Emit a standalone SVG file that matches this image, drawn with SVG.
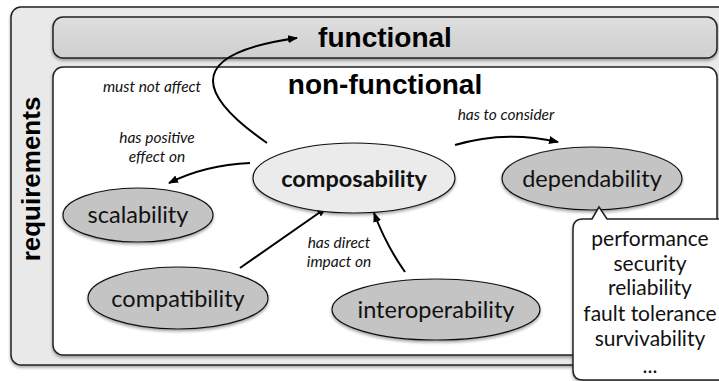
<svg xmlns="http://www.w3.org/2000/svg" width="719" height="381" viewBox="0 0 719 381">
  <defs>
    <filter id="shadow" x="-10%" y="-10%" width="120%" height="130%">
      <feDropShadow dx="0" dy="2" stdDeviation="1.5" flood-color="#000" flood-opacity="0.35"/>
    </filter>
    <linearGradient id="funcFill" x1="0" y1="0" x2="0" y2="1">
      <stop offset="0" stop-color="#dedede"/>
      <stop offset="1" stop-color="#cfcfcf"/>
    </linearGradient>
    <marker id="arrow" viewBox="0 0 10 10" refX="9" refY="5" markerWidth="10" markerHeight="10" markerUnits="userSpaceOnUse" orient="auto">
      <path d="M0,1 L10,5 L0,9 Z" fill="#000"/>
    </marker>
    <style>
      .box { stroke: #222; stroke-width: 1.5; }
      .node { stroke: #111; stroke-width: 1.2; filter: url(#shadow); }
      .main { fill: #ebebeb; }
      .sub { fill: #c4c4c4; }
      .title { font-family: "Liberation Sans", Arial, sans-serif; font-weight: bold; fill: #000; }
      .label { font-family: Lato, "Open Sans", sans-serif; font-size: 23.5px; fill: #111; text-anchor: middle; }
      .edge-label { font-family: Lato, "Open Sans", sans-serif; font-style: italic; font-size: 15.5px; fill: #111; text-anchor: middle; }
      .edge { fill: none; stroke: #000; stroke-width: 2; marker-end: url(#arrow); }
      .list { font-family: Lato, "Open Sans", sans-serif; font-size: 21px; fill: #111; text-anchor: middle; }
    </style>
  </defs>

  <!-- requirements container -->
  <g id="requirements">
    <rect class="box" x="11" y="7" width="730" height="358" rx="10" fill="#e9e9e9" filter="url(#shadow)"/>
    <text class="title" font-size="26" transform="translate(40,179) rotate(-90)" text-anchor="middle">requirements</text>
  </g>

  <!-- functional band -->
  <g id="functional">
    <rect class="box" x="53" y="17" width="664" height="41" rx="10" fill="url(#funcFill)" filter="url(#shadow)"/>
    <text class="title" font-size="28" x="385" y="47" text-anchor="middle">functional</text>
  </g>

  <!-- non-functional area -->
  <g id="non-functional">
    <rect class="box" x="53" y="67" width="664" height="288" rx="10" fill="#fff" filter="url(#shadow)"/>
    <text class="title" font-size="28" x="385" y="94" text-anchor="middle">non-functional</text>
  </g>

  <!-- relations -->
  <g id="connectors">
    <path class="edge" d="M267,143 C205,100 175,55 297,38"/>
    <path class="edge" d="M250,163 Q205,165 169,183"/>
    <path class="edge" d="M455,145 Q505,130 558,142"/>
    <path class="edge" d="M240,268 L326,208"/>
    <path class="edge" d="M405,272 Q386,245 374,213"/>
    <text class="edge-label" x="152" y="92">must not affect</text>
    <text class="edge-label" x="157" y="143">has positive</text>
    <text class="edge-label" x="157" y="162">effect on</text>
    <text class="edge-label" x="506" y="120">has to consider</text>
    <text class="edge-label" x="339" y="248">has direct</text>
    <text class="edge-label" x="339" y="267">impact on</text>
  </g>

  <g id="composability">
    <ellipse class="node main" cx="354" cy="178" rx="101" ry="35"/>
    <text class="label" x="354" y="187" font-weight="bold" font-size="26">composability</text>
  </g>

  <g id="scalability">
    <ellipse class="node sub" cx="138" cy="215" rx="75" ry="27"/>
    <text class="label" x="138" y="223">scalability</text>
  </g>

  <g id="compatibility">
    <ellipse class="node sub" cx="178" cy="298" rx="90" ry="31"/>
    <text class="label" x="178" y="307">compatibility</text>
  </g>

  <g id="interoperability">
    <ellipse class="node sub" cx="436" cy="309.5" rx="104" ry="30.5"/>
    <text class="label" x="436" y="318">interoperability</text>
  </g>

  <g id="dependability">
    <ellipse class="node sub" cx="592" cy="178.5" rx="90" ry="31.5"/>
    <text class="label" x="592" y="187">dependability</text>
  </g>

  <!-- dependability attributes callout -->
  <g id="attributes">
    <path d="M583,219 L592,219 L599,207 L607,219 L745,219 L745,380 L583,380 Q573,380 573,370 L573,229 Q573,219 583,219 Z" fill="#fff" stroke="#222" stroke-width="1.5" filter="url(#shadow)"/>
    <text class="list" x="650" y="246">performance</text>
    <text class="list" x="650" y="271">security</text>
    <text class="list" x="650" y="295">reliability</text>
    <text class="list" x="650" y="321">fault tolerance</text>
    <text class="list" x="650" y="346">survivability</text>
    <text class="list" x="650" y="373">...</text>
  </g>
</svg>
